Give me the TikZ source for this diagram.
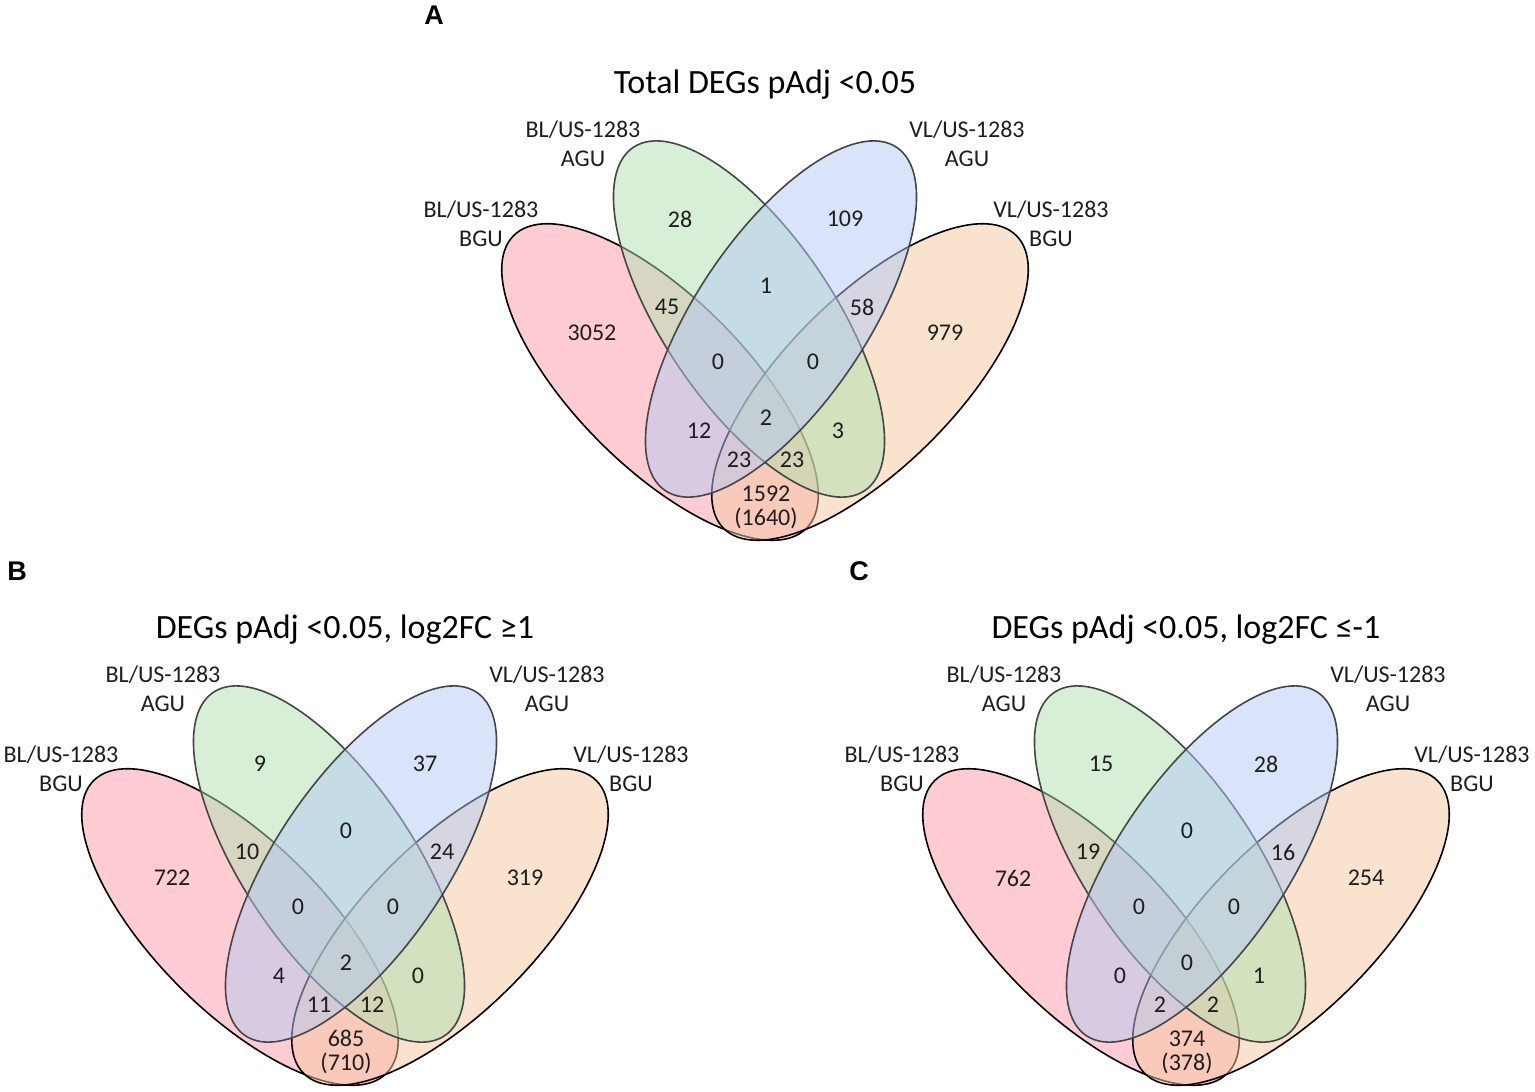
\documentclass[tikz,border=0pt]{standalone}
\usepackage{fontspec}
\setmainfont{Carlito}
\newfontfamily\panelfont{Liberation Sans}
\definecolor{vred}{RGB}{255,155,171}
\definecolor{vgreen}{RGB}{177,225,177}
\definecolor{vblue}{RGB}{181,201,245}
\definecolor{vorange}{RGB}{245,201,161}
\definecolor{numcol}{RGB}{30,30,30}
\definecolor{innerline}{RGB}{70,70,70}
\tikzset{
  ellbase/.style={fill opacity=0.5, line width=1.6pt},
  outerell/.style={ellbase, draw=black},
  innerell/.style={ellbase, draw=innerline},
  titletext/.style={font=\fontsize{34}{40}\selectfont, text=black, inner sep=0pt},
  settext/.style={font=\fontsize{24}{29}\selectfont, text=numcol, align=center, inner sep=0pt},
  numtext/.style={font=\fontsize{24}{24}\selectfont, text=numcol, align=center, inner sep=0pt},
  panelletter/.style={font=\panelfont\bfseries\fontsize{27}{30}\selectfont, inner sep=0pt},
}
\newcommand\vennpanel[3]{%
\begin{scope}[shift={#1}]
\draw[outerell, fill=vred, rotate around={-45:(660,-382)}] (660,-382) ellipse [x radius=207, y radius=85];
\draw[outerell, fill=vorange, rotate around={45:(870,-382)}] (870,-382) ellipse [x radius=207, y radius=85];
\draw[innerell, fill=vgreen, rotate around={-56:(749,-319)}] (749,-319) ellipse [x radius=207, y radius=85];
\draw[innerell, fill=vblue, rotate around={56:(781,-319)}] (781,-319) ellipse [x radius=207, y radius=85];
\node[titletext] (#2title) at (765,-85) {#3};
\node[settext] (#2labBLAGU) at (583,-143.5) {BL/US-1283\\AGU};
\node[settext] (#2labVLAGU) at (967,-143.5) {VL/US-1283\\AGU};
\node[settext] (#2labBLBGU) at (481,-223.5) {BL/US-1283\\BGU};
\node[settext] (#2labVLBGU) at (1051,-223.5) {VL/US-1283\\BGU};
\end{scope}}
\begin{document}
\begin{tikzpicture}[x=1pt,y=1pt]
\useasboundingbox (0,0) rectangle (1535,-1092);
\fill[white] (0,0) rectangle (1535,-1092);
% panel letters
\node[panelletter] (letA) at (434,-15) {A};
\node[panelletter] (letB) at (17,-571) {B};
\node[panelletter] (letC) at (859,-571) {C};
% Panel A
\vennpanel{(0,0)}{a}{Total DEGs pAdj <0.05}
\begin{scope}[shift={(0,0)}]
\node[numtext] (a1) at (592,-333) {3052};
\node[numtext] (a2) at (680,-219) {28};
\node[numtext] (a3) at (845,-219) {109};
\node[numtext] (a4) at (945,-333) {979};
\node[numtext] (a5) at (667,-307) {45};
\node[numtext] (a6) at (766,-286) {1};
\node[numtext] (a7) at (862,-307) {58};
\node[numtext] (a8) at (718,-362) {0};
\node[numtext] (a9) at (813,-362) {0};
\node[numtext] (a10) at (699,-431) {12};
\node[numtext] (a11) at (838,-431) {3};
\node[numtext] (a12) at (766,-418) {2};
\node[numtext] (a13) at (739,-460) {23};
\node[numtext] (a14) at (792,-460) {23};
\node[numtext] (a15) at (766,-507) {1592\\(1640)};
\end{scope}
% Panel B
\vennpanel{(-420,-545)}{b}{DEGs pAdj <0.05, log2FC ≥1}
\begin{scope}[shift={(-420,-545)}]
\node[numtext] (b1) at (592,-333) {722};
\node[numtext] (b2) at (680,-219) {9};
\node[numtext] (b3) at (845,-219) {37};
\node[numtext] (b4) at (945,-333) {319};
\node[numtext] (b5) at (667,-307) {10};
\node[numtext] (b6) at (766,-286) {0};
\node[numtext] (b7) at (862,-307) {24};
\node[numtext] (b8) at (718,-362) {0};
\node[numtext] (b9) at (813,-362) {0};
\node[numtext] (b10) at (699,-431) {4};
\node[numtext] (b11) at (838,-431) {0};
\node[numtext] (b12) at (766,-418) {2};
\node[numtext] (b13) at (739,-460) {11};
\node[numtext] (b14) at (792,-460) {12};
\node[numtext] (b15) at (766,-507) {685\\(710)};
\end{scope}
% Panel C
\vennpanel{(421,-545)}{c}{DEGs pAdj <0.05, log2FC ≤-1}
\begin{scope}[shift={(421,-545)}]
\node[numtext] (c1) at (592,-333) {762};
\node[numtext] (c2) at (680,-219) {15};
\node[numtext] (c3) at (845,-219) {28};
\node[numtext] (c4) at (945,-333) {254};
\node[numtext] (c5) at (667,-307) {19};
\node[numtext] (c6) at (766,-286) {0};
\node[numtext] (c7) at (862,-307) {16};
\node[numtext] (c8) at (718,-362) {0};
\node[numtext] (c9) at (813,-362) {0};
\node[numtext] (c10) at (699,-431) {0};
\node[numtext] (c11) at (838,-431) {1};
\node[numtext] (c12) at (766,-418) {0};
\node[numtext] (c13) at (739,-460) {2};
\node[numtext] (c14) at (792,-460) {2};
\node[numtext] (c15) at (766,-507) {374\\(378)};
\end{scope}
\end{tikzpicture}
\end{document}
